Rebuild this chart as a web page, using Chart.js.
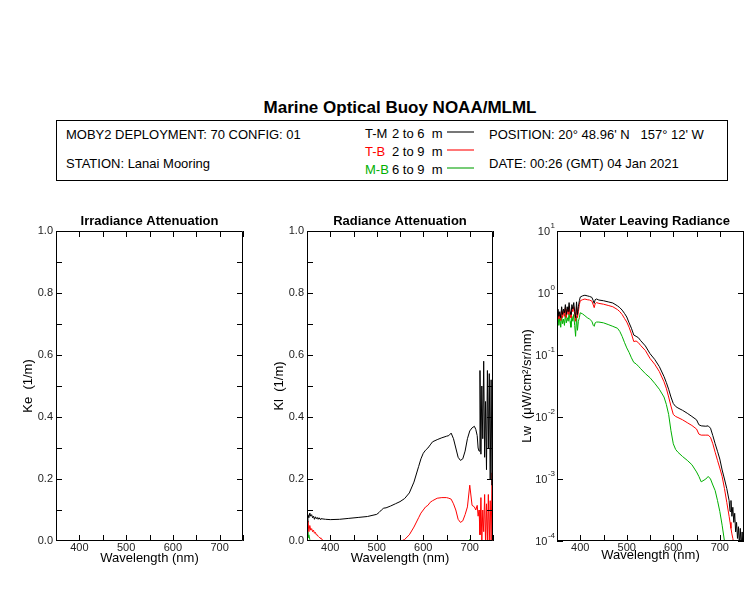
<!DOCTYPE html>
<html>
<head>
<meta charset="utf-8">
<script src="https://cdn.jsdelivr.net/npm/chart.js@4.4.1/dist/chart.umd.min.js"></script>
<style>
  body { margin: 0; background: #fff; font-family: 'Liberation Sans', Arial, sans-serif; }
  #page { position: relative; width: 750px; height: 600px; overflow: hidden; }
  .t { position: absolute; font-size: 13px; line-height: 16px; white-space: pre; color: #000; }
  .key { position: absolute; left: 447px; width: 27px; height: 2px; }
  canvas { position: absolute; }
</style>
</head>
<body>
<div id="page">
  <div class="t" style="left:250px; top:98px; width:300px; text-align:center; font-size:17px; line-height:20px; font-weight:bold;">Marine Optical Buoy NOAA/MLML</div>
  <div style="position:absolute; left:56px; top:120px; width:672px; height:61px; border:1px solid #000; box-sizing:border-box;"></div>
  <div class="t" style="left:66px; top:127px;">MOBY2 DEPLOYMENT: 70 CONFIG: 01</div>
  <div class="t" style="left:66px; top:156px;">STATION: Lanai Mooring</div>
  <div class="t" style="left:365px; top:126px;">T-M</div>
  <div class="t" style="left:392px; top:126px;">2 to 6  m</div>
  <div class="t" style="left:365px; top:144px; color:#ff0000;">T-B</div>
  <div class="t" style="left:392px; top:144px;">2 to 9  m</div>
  <div class="t" style="left:365px; top:162px; color:#00b000;">M-B</div>
  <div class="t" style="left:392px; top:162px;">6 to 9  m</div>
  <div class="key" style="top:131px; background:#777;"></div>
  <div class="key" style="top:149px; background:#f77;"></div>
  <div class="key" style="top:167px; background:#7c7;"></div>
  <div class="t" style="left:489px; top:127px;">POSITION: 20° 48.96' N   157° 12' W</div>
  <div class="t" style="left:489px; top:156px;">DATE: 00:26 (GMT) 04 Jan 2021</div>

  <canvas id="ke" width="241" height="373" style="left:6px; top:200px;"></canvas>
  <canvas id="kl" width="240" height="373" style="left:257px; top:200px;"></canvas>
  <canvas id="lw" width="241" height="373" style="left:507px; top:200px;"></canvas>
</div>
<script>
// tick labels
const wlLabels = [400, 500, 600, 700];
const wlMinor = [350, 400, 450, 500, 550, 600, 650, 700, 750];
const kLabels = [0, 0.2, 0.4, 0.6, 0.8, 1.0];
const kMinor = [0.1, 0.2, 0.3, 0.4, 0.5, 0.6, 0.7, 0.8, 0.9];
const lwDecades = [1, 0, -1, -2, -3, -4];

// Radiance attenuation Kl (1/m)
const klWave = [350,352,354,356,358,360,362,364,366,368,370,372,374,376,378,380,390,400,420,440,460,480,500,505,510,515,520,530,540,550,560,570,580,590,595,600,605,610,615,620,630,640,650,655,660,665,670,675,680,685,690,695,700,705,710,713,716,718,720,722,724,726,728,730,732,734,736,738,740,742,744,746,748,750];
const klTM = [0.06,0.085,0.075,0.09,0.08,0.085,0.075,0.08,0.07,0.078,0.072,0.076,0.07,0.075,0.07,0.072,0.07,0.069,0.07,0.073,0.076,0.079,0.086,0.092,0.1,0.106,0.107,0.113,0.12,0.127,0.137,0.155,0.19,0.24,0.265,0.283,0.293,0.3,0.31,0.32,0.327,0.333,0.338,0.34,0.348,0.33,0.3,0.27,0.26,0.265,0.29,0.33,0.355,0.365,0.37,0.36,0.34,0.3,0.29,0.55,0.28,0.5,0.33,0.58,0.27,0.45,0.23,0.55,0.3,0.54,0.2,0.52,0.18,0.5];
const klTB = [0.04,0.065,0.03,0.05,0.035,0.04,0.03,0.035,0.025,0.028,0.02,0.02,0.015,0.012,0.01,0.008,-0.005,-0.03,-0.05,-0.05,-0.05,-0.05,-0.05,-0.05,-0.05,-0.05,-0.05,-0.05,-0.03,-0.002,0.005,0.02,0.045,0.075,0.09,0.1,0.11,0.115,0.125,0.13,0.138,0.14,0.14,0.138,0.135,0.12,0.1,0.07,0.06,0.065,0.085,0.11,0.18,0.115,0.11,0.1,0.115,0.08,0.1,0.02,0.14,0.0,0.1,0.03,0.15,-0.01,0.12,0.0,0.15,-0.01,0.13,0.0,0.22,-0.01];
const klMB = [0.03,0.01,0.02,0.005,-0.01,-0.03,-0.05,-0.05,-0.05,-0.05,-0.05,-0.05,-0.05,-0.05,-0.05,-0.05,-0.05,-0.05,-0.05,-0.05,-0.05,-0.05,-0.05,-0.05,-0.05,-0.05,-0.05,-0.05,-0.05,-0.05,-0.05,-0.05,-0.05,-0.05,-0.05,-0.05,-0.05,-0.05,-0.05,-0.05,-0.05,-0.05,-0.05,-0.05,-0.05,-0.05,-0.05,-0.05,-0.05,-0.05,-0.05,-0.02,0.005,-0.03,-0.05,-0.05,-0.05,-0.05,-0.05,-0.05,-0.05,-0.05,-0.05,-0.05,-0.05,-0.05,-0.05,-0.05,-0.05,-0.05,-0.05,-0.05,-0.05,-0.05];

// Water leaving radiance Lw (uW/cm^2/sr/nm)
const lwWave = [350,352,354,356,358,360,362,364,366,368,370,372,374,376,378,380,382,384,386,388,390,392,394,396,398,400,405,410,415,420,425,428,430,432,435,440,450,460,470,480,485,490,495,500,505,510,515,520,525,530,540,550,560,570,580,585,590,595,600,605,610,620,630,640,650,655,660,670,675,680,685,690,695,700,705,710,715,720,722,724,726,728,730,732,734,736,738,740,742,744,746,748,750];
const lwTM = [0.45,0.55,0.42,0.5,0.4,0.6,0.45,0.55,0.48,0.65,0.45,0.6,0.5,0.7,0.5,0.45,0.65,0.55,0.7,0.5,0.4,0.72,0.45,0.6,0.75,0.86,0.9,0.92,0.9,0.88,0.85,0.75,0.68,0.78,0.8,0.77,0.75,0.72,0.69,0.62,0.58,0.53,0.47,0.41,0.33,0.27,0.21,0.2,0.19,0.17,0.14,0.105,0.085,0.065,0.045,0.036,0.028,0.021,0.0165,0.0148,0.014,0.0128,0.0115,0.0102,0.009,0.0075,0.0072,0.0071,0.0072,0.0066,0.005,0.0037,0.0028,0.0021,0.0014,0.001,0.0007,0.00045,0.0003,0.00045,0.00025,0.00035,0.0002,0.00028,0.00014,0.0002,0.00011,0.00017,0.00009,0.00016,0.00008,0.00014,0.00007];
const lwTB = [0.4,0.5,0.38,0.45,0.36,0.52,0.4,0.5,0.42,0.58,0.4,0.55,0.45,0.6,0.45,0.4,0.55,0.5,0.6,0.45,0.35,0.6,0.4,0.5,0.65,0.75,0.78,0.8,0.78,0.77,0.74,0.64,0.58,0.67,0.7,0.68,0.66,0.63,0.6,0.54,0.5,0.45,0.39,0.34,0.28,0.22,0.165,0.168,0.158,0.142,0.118,0.088,0.071,0.054,0.037,0.029,0.021,0.015,0.011,0.0102,0.0098,0.009,0.0081,0.0073,0.0064,0.0053,0.0051,0.0051,0.0051,0.0047,0.0037,0.0027,0.002,0.0015,0.0011,0.0007,0.00042,0.00025,0.0002,0.00016,0.00013,0.00011,0.00009,0.00007,0.00006,0.00005,0.00005,0.00005,0.00005,0.00005,0.00005,0.00005,0.00005];
const lwMB = [0.35,0.45,0.3,0.4,0.28,0.42,0.32,0.38,0.3,0.45,0.33,0.4,0.35,0.48,0.35,0.28,0.42,0.35,0.45,0.3,0.2,0.42,0.25,0.35,0.4,0.48,0.46,0.43,0.4,0.38,0.35,0.3,0.29,0.33,0.34,0.34,0.33,0.31,0.29,0.27,0.24,0.2,0.16,0.13,0.11,0.09,0.076,0.072,0.066,0.06,0.05,0.043,0.035,0.028,0.021,0.016,0.011,0.006,0.0037,0.003,0.0027,0.0023,0.002,0.0017,0.0013,0.0011,0.0009,0.001,0.0011,0.001,0.0008,0.00065,0.00045,0.0003,0.00018,0.0001,0.00007,0.00005,0.00005,0.00005,0.00005,0.00005,0.00005,0.00005,0.00005,0.00005,0.00005,0.00005,0.00005,0.00005,0.00005,0.00005,0.00005];

Chart.defaults.font.family = "'Liberation Sans', Arial, sans-serif";
Chart.defaults.color = '#000';

// box, inward ticks, panel title, log labels
const frame = {
    id: 'frame',
    afterDraw(chart, args, opts) {
        const { ctx, chartArea: a, scales: { x, y } } = chart;
        ctx.save();
        ctx.strokeStyle = '#000';
        ctx.lineWidth = 1;
        ctx.beginPath();
        ctx.rect(a.left + 0.5, a.top + 0.5, a.right - a.left - 1, a.bottom - a.top - 1);
        wlMinor.forEach(v => {
            const px = Math.round(x.getPixelForValue(v)) + 0.5;
            ctx.moveTo(px, a.bottom); ctx.lineTo(px, a.bottom - 6);
            ctx.moveTo(px, a.top); ctx.lineTo(px, a.top + 6);
        });
        opts.yTicks.forEach(v => {
            const py = Math.round(y.getPixelForValue(v)) + 0.5;
            ctx.moveTo(a.left, py); ctx.lineTo(a.left + 6, py);
            ctx.moveTo(a.right, py); ctx.lineTo(a.right - 6, py);
        });
        ctx.stroke();

        ctx.fillStyle = '#000';
        ctx.font = "bold 13px 'Liberation Sans', Arial, sans-serif";
        ctx.textAlign = 'center';
        ctx.textBaseline = 'middle';
        ctx.fillText(opts.title, opts.titleX != null ? opts.titleX : (a.left + a.right) / 2, a.top - 9.5);

        if (opts.log) {
            lwDecades.forEach(e => {
                const py = y.getPixelForValue(Math.pow(10, e));
                const ex = String(e);
                ctx.font = "8px 'Liberation Sans', Arial, sans-serif";
                const ew = ctx.measureText(ex).width;
                const ex0 = a.left - 2 - ew;
                ctx.textAlign = 'left';
                ctx.fillStyle = '#222';
                ctx.fillText(ex, ex0, py - 5);
                ctx.font = "11px 'Liberation Sans', Arial, sans-serif";
                ctx.textAlign = 'right';
                ctx.fillText('10', ex0 - 0.5, py + 1);
            });
        }
        ctx.restore();
    }
};

function pts(xs, ys) {
    return xs.map((v, i) => ({ x: v, y: ys[i] }));
}

function series(label, xs, ys, color) {
    return { label: label, data: pts(xs, ys), borderColor: color, borderWidth: 1, pointRadius: 0, tension: 0, fill: false };
}

function wlAxis(max, titlePad) {
    return {
        type: 'linear', min: 350, max: max,
        grid: { display: false, drawTicks: false }, border: { display: false },
        afterBuildTicks: s => { s.ticks = wlLabels.map(v => ({ value: v })); },
        afterFit: s => { s.height = 30; },
        ticks: { padding: 0, color: '#222', font: { size: 11 }, autoSkip: false, maxRotation: 0 },
        title: { display: true, text: 'Wavelength (nm)', color: '#000', font: { size: 13 }, padding: { top: 0, bottom: titlePad } }
    };
}

function kAxis(label) {
    return {
        type: 'linear', min: 0, max: 1,
        grid: { display: false, drawTicks: false }, border: { display: false },
        afterBuildTicks: s => { s.ticks = kLabels.map(v => ({ value: v })); },
        afterFit: s => { s.width = 50; },
        ticks: { padding: 3, color: '#222', font: { size: 11 }, callback: v => Number(v).toFixed(1) },
        title: { display: true, text: label, color: '#000', font: { size: 13 }, padding: { top: 14.2, bottom: 0 } }
    };
}

const layout = { padding: { left: 0, top: 31, right: 4, bottom: 2 } };

new Chart(document.getElementById('ke'), {
    type: 'line',
    data: { datasets: [] },
    options: {
        responsive: false, animation: false, layout: layout,
        plugins: { legend: { display: false }, tooltip: { enabled: false },
            frame: { title: 'Irradiance Attenuation', yTicks: kMinor } },
        scales: { x: wlAxis(750, 5.2), y: kAxis('Ke  (1/m)') }
    },
    plugins: [frame]
});

new Chart(document.getElementById('kl'), {
    type: 'line',
    data: { datasets: [
        series('T-M', klWave, klTM, '#000000'),
        series('T-B', klWave, klTB, '#ff0000'),
        series('M-B', klWave, klMB, '#00b000')
    ] },
    options: {
        responsive: false, animation: false, layout: layout,
        plugins: { legend: { display: false }, tooltip: { enabled: false },
            frame: { title: 'Radiance Attenuation', yTicks: kMinor } },
        scales: { x: wlAxis(750, 5.2), y: kAxis('Kl  (1/m)') }
    },
    plugins: [frame]
});

new Chart(document.getElementById('lw'), {
    type: 'line',
    data: { datasets: [
        series('T-M', lwWave, lwTM, '#000000'),
        series('T-B', lwWave, lwTB, '#ff0000'),
        series('M-B', lwWave, lwMB, '#00b000')
    ] },
    options: {
        responsive: false, animation: false, layout: layout,
        plugins: { legend: { display: false }, tooltip: { enabled: false },
            frame: { title: 'Water Leaving Radiance', titleX: 655 - 507, yTicks: [10, 1, 0.1, 0.01, 0.001, 0.0001], log: true } },
        scales: {
            x: wlAxis(752, 8.2),
            y: {
                type: 'logarithmic', min: 0.0001, max: 10,
                grid: { display: false, drawTicks: false }, border: { display: false },
                ticks: { display: false },
                afterFit: s => { s.width = 50; },
                title: { display: true, text: 'Lw  (\u03bcW/cm\u00b2/sr/nm)', color: '#000', font: { size: 13 }, padding: { top: 12.2, bottom: 0 } }
            }
        }
    },
    plugins: [frame]
});
</script>
</body>
</html>
